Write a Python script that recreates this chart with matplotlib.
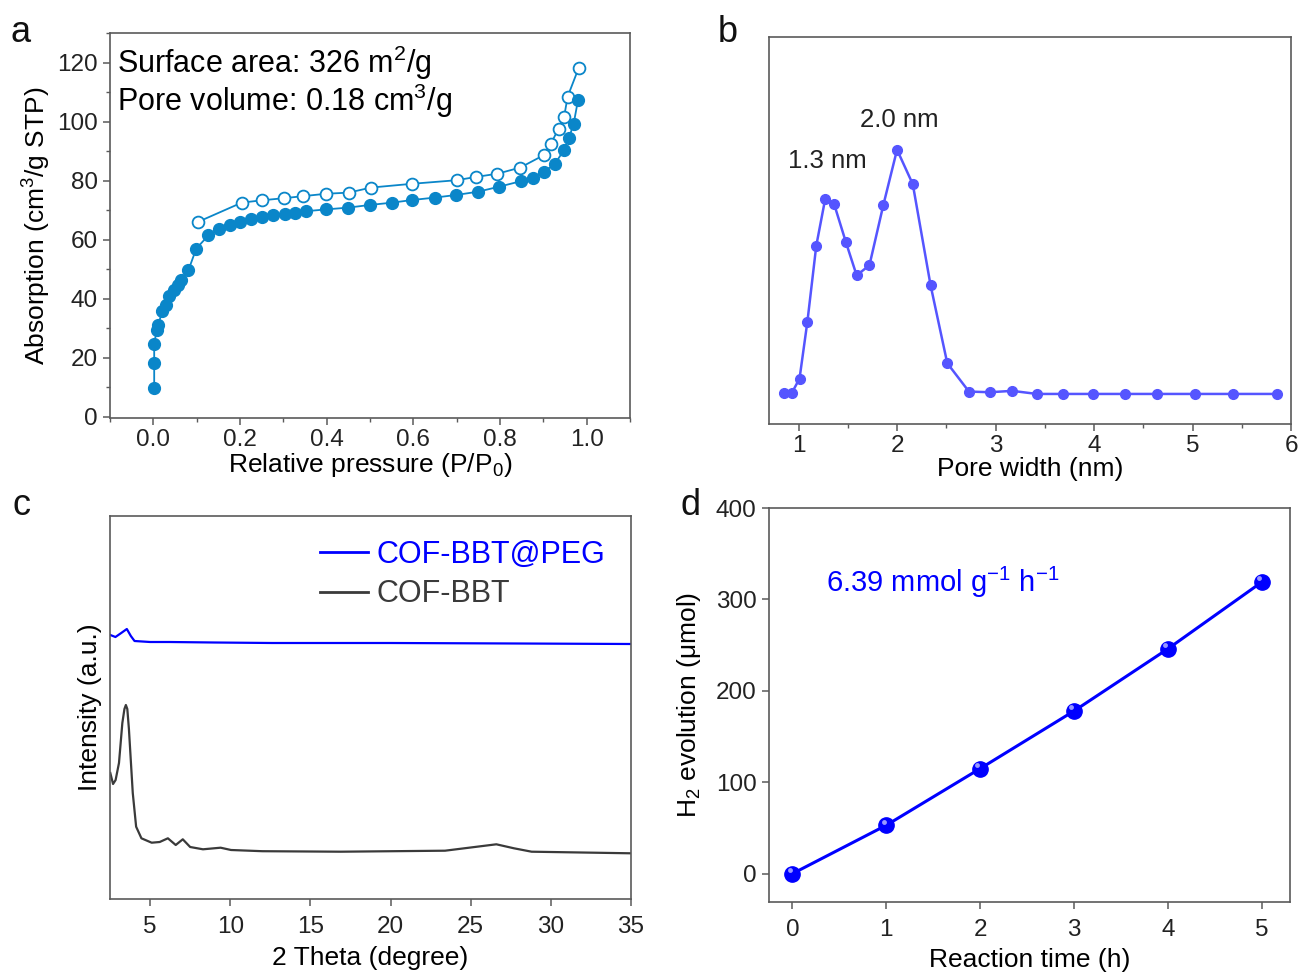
import numpy as np
import matplotlib.pyplot as plt
from matplotlib.ticker import MultipleLocator
from matplotlib.lines import Line2D

plt.rcParams['font.family'] = ['Liberation Sans', 'DejaVu Sans']
plt.rcParams['mathtext.fontset'] = 'custom'
plt.rcParams['mathtext.rm'] = 'Liberation Sans'
plt.rcParams['mathtext.it'] = 'Liberation Sans:italic'

# (a) N2 isotherm
p_ads = [0.002, 0.002, 0.002, 0.008, 0.011, 0.021, 0.029, 0.037, 0.048, 0.057, 0.065,
         0.081, 0.099, 0.127, 0.152, 0.178, 0.2, 0.226, 0.251, 0.277, 0.303, 0.326,
         0.353, 0.398, 0.449, 0.499, 0.551, 0.598, 0.649, 0.699, 0.749, 0.798, 0.849,
         0.876, 0.901, 0.926, 0.948, 0.959, 0.97, 0.98]
v_ads = [9.6, 18.1, 24.7, 29.4, 31.1, 35.7, 37.9, 40.8, 43.0, 44.7, 46.4,
         49.6, 56.9, 61.4, 63.4, 64.8, 65.9, 66.8, 67.6, 68.2, 68.7, 69.1,
         69.6, 70.2, 70.8, 71.7, 72.5, 73.4, 74.2, 75.1, 76.2, 77.9, 79.8,
         81.0, 83.0, 85.5, 90.4, 94.3, 99.3, 107.2]
p_des = [0.982, 0.956, 0.948, 0.935, 0.917, 0.901, 0.847, 0.794, 0.744, 0.7, 0.598,
         0.502, 0.451, 0.398, 0.346, 0.301, 0.251, 0.204, 0.102]
v_des = [118.3, 108.4, 101.6, 97.6, 92.3, 88.6, 84.4, 82.3, 81.2, 80.1, 78.9,
         77.6, 75.9, 75.5, 74.7, 74.0, 73.3, 72.5, 65.9]

# (b) pore size distribution (a.u.)
pore_w = [0.85, 0.93, 1.01, 1.09, 1.18, 1.27, 1.36, 1.48, 1.59, 1.72, 1.86, 2.0,
          2.16, 2.34, 2.51, 2.73, 2.94, 3.17, 3.42, 3.68, 3.99, 4.31, 4.64, 5.03,
          5.41, 5.86]
pore_v = [0.2, 0.2, 4.5, 21.2, 43.4, 57.0, 55.7, 44.5, 34.7, 37.7, 55.2, 71.5,
          61.4, 31.9, 9.0, 0.7, 0.5, 0.9, 0.0, 0.0, 0.0, 0.0, 0.0, 0.0, 0.0, 0.0]

# (c) PXRD (a.u., stacked)
tt_peg = [2.52, 2.84, 3.2, 3.55, 3.8, 4.03, 5.0, 6.2, 9.0, 12.6, 20.0, 28.0, 35.0]
i_peg = [26.4, 26.2, 26.6, 27.0, 26.3, 25.8, 25.7, 25.7, 25.65, 25.6, 25.6, 25.55, 25.5]
tt_cof = [2.52, 2.69, 2.85, 3.06, 3.27, 3.4, 3.49, 3.58, 3.68, 3.77, 3.92, 4.13, 4.46,
          5.1, 5.6, 6.11, 6.6, 7.04, 7.5, 8.3, 9.4, 10.05, 12.0, 16.9, 23.4, 25.1,
          26.6, 27.7, 28.8, 35.0]
i_cof = [12.6, 11.5, 11.9, 13.6, 17.6, 19.0, 19.4, 19.0, 17.0, 14.6, 10.6, 7.23, 6.07,
         5.63, 5.7, 6.07, 5.4, 5.97, 5.2, 4.97, 5.13, 4.9, 4.78, 4.73, 4.83, 5.17,
         5.47, 5.07, 4.73, 4.57]

# (d) H2 evolution
t_h = [0, 1, 2, 3, 4, 5]
h2 = [0, 53, 115, 178, 246, 319]

c_a = '#0A86C9'
c_b = '#5555FF'
spine_c = '#5a5a5a'
fs_tick = 17.5
fs_lab = 19

fig = plt.figure(figsize=(12.99, 9.72), dpi=100)

def style(ax, yticks=True):
    for s in ax.spines.values():
        s.set_color(spine_c)
        s.set_linewidth(1.2)
    ax.tick_params(which='both', direction='out', color=spine_c, labelsize=fs_tick,
                   labelcolor='#222222', top=False, right=False)
    ax.tick_params(which='major', length=5, width=1.1, pad=4)
    ax.tick_params(which='minor', length=3, width=1.0)
    if not yticks:
        ax.tick_params(axis='y', which='both', left=False, labelleft=False)

W, H = 1299, 972
def box(l, t, r, b):
    return [l / W, 1 - b / H, (r - l) / W, (b - t) / H]

# panel a
ax1 = fig.add_axes(box(110, 33, 630, 418))
ax1.plot(p_ads, v_ads, '-o', color=c_a, ms=8.5, lw=1.3, mec=c_a, zorder=3)
ax1.plot(p_des, v_des, '-o', color=c_a, ms=8.5, lw=1.3, mfc='white', mec=c_a,
         mew=1.3, zorder=2)
ax1.set_xlim(-0.1, 1.1)
ax1.set_ylim(-0.5, 130)
ax1.xaxis.set_minor_locator(MultipleLocator(0.1))
ax1.yaxis.set_major_locator(MultipleLocator(20))
ax1.yaxis.set_minor_locator(MultipleLocator(10))
ax1.set_xticks([0, 0.2, 0.4, 0.6, 0.8, 1.0])
ax1.set_xticklabels(['0.0', '0.2', '0.4', '0.6', '0.8', '1.0'])
style(ax1)
ax1.tick_params(axis='x', which='major', pad=3)
ax1.set_xlabel('Relative pressure (P/P$_0$)', fontsize=fs_lab, labelpad=0)
ax1.set_ylabel('Absorption (cm$^3$/g STP)', fontsize=fs_lab, labelpad=3)
ax1.text(-0.083, 120, 'Surface area: 326 m$^2$/g', fontsize=22, va='center')
ax1.text(-0.083, 107, 'Pore volume: 0.18 cm$^3$/g', fontsize=22, va='center')

# panel b
ax2 = fig.add_axes(box(769, 37, 1291, 424))
ax2.plot(pore_w, pore_v, '-o', color=c_b, ms=7, lw=1.8)
ax2.set_xlim(0.7, 6)
ax2.set_ylim(-8.8, 104.5)
ax2.xaxis.set_major_locator(MultipleLocator(1))
ax2.xaxis.set_minor_locator(MultipleLocator(0.5))
style(ax2, yticks=False)
ax2.tick_params(axis='x', which='major', pad=3)
ax2.set_xlabel('Pore width (nm)', fontsize=fs_lab, labelpad=0)
ax2.text(1.29, 68.2, '1.3 nm', fontsize=18.5, ha='center', va='center', color='#222222')
ax2.text(2.02, 80.2, '2.0 nm', fontsize=18.5, ha='center', va='center', color='#222222')

# panel c
ax3 = fig.add_axes(box(110, 516, 631, 899))
ax3.plot(tt_peg, i_peg, color='#0000FF', lw=1.6)
ax3.plot(tt_cof, i_cof, color='#3a3a3a', lw=1.6)
ax3.set_xlim(2.5, 35)
ax3.set_ylim(0, 38.3)
ax3.xaxis.set_major_locator(MultipleLocator(5))
style(ax3, yticks=False)
ax3.tick_params(axis='x', which='major', pad=7)
ax3.set_xlabel('2 Theta (degree)', fontsize=fs_lab, labelpad=6)
ax3.set_ylabel('Intensity (a.u.)', fontsize=fs_lab, labelpad=6)
handles = [Line2D([], [], color='#0000FF', lw=2), Line2D([], [], color='#3a3a3a', lw=2)]
leg = ax3.legend(handles, ['COF-BBT@PEG', 'COF-BBT'], loc='upper right', frameon=False,
                 fontsize=22, handlelength=1.6, handletextpad=0.25, labelspacing=0.3,
                 borderaxespad=0.2, bbox_to_anchor=(0.985, 0.985))
leg.get_texts()[0].set_color('#0000FF')
leg.get_texts()[1].set_color('#3a3a3a')

# panel d
ax4 = fig.add_axes(box(769, 508, 1290, 902))
ax4.plot(t_h, h2, '-', color='#0000FF', lw=2.2, zorder=2)
ax4.plot(t_h, h2, 'o', color='#0000FF', ms=11, zorder=3)
ax4.plot(np.array(t_h) - 0.03, np.array(h2) + 4, 'o', color='#9999FF', ms=3.5, mew=0, zorder=4)
ax4.set_xlim(-0.25, 5.3)
ax4.set_ylim(-31, 400)
ax4.xaxis.set_major_locator(MultipleLocator(1))
ax4.yaxis.set_major_locator(MultipleLocator(100))
style(ax4)
ax4.tick_params(axis='x', which='major', pad=7)
ax4.set_xlabel('Reaction time (h)', fontsize=fs_lab, labelpad=5)
ax4.set_ylabel('H$_2$ evolution (μmol)', fontsize=fs_lab, labelpad=9)
ax4.text(0.36, 308, '6.39 mmol g$^{-1}$ h$^{-1}$', fontsize=21, color='#0000FF',
         va='baseline')

for lab, x, y in [('a', 10, 32), ('b', 718, 32), ('c', 12, 505), ('d', 680, 505)]:
    fig.text(x / W, 1 - y / H, lab, fontsize=26, ha='left', va='center', color='#111111')

plt.savefig('out.png', dpi=100)
